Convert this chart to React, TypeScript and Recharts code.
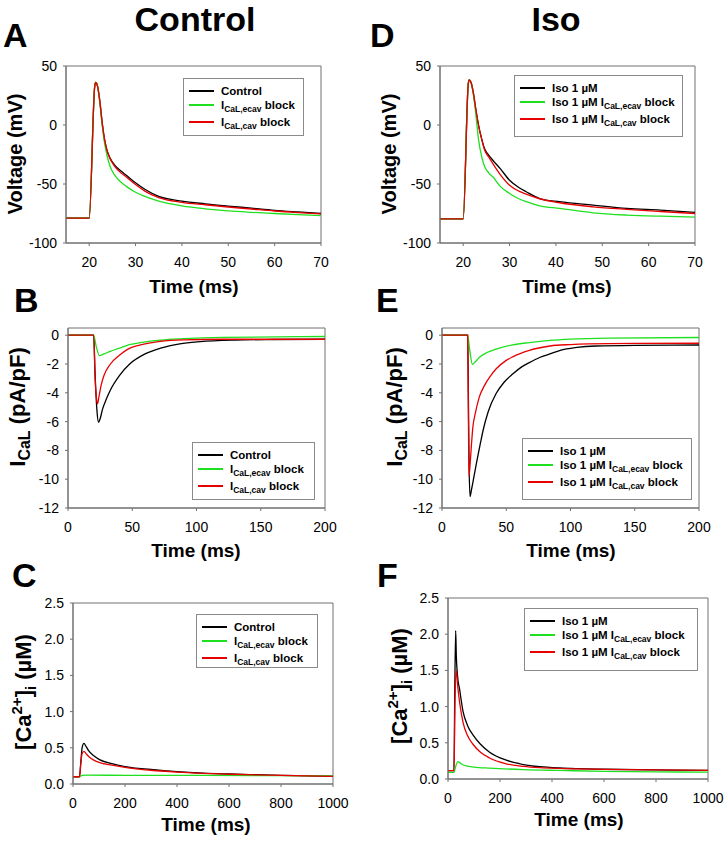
import { LineChart, Line, XAxis, YAxis, ReferenceArea } from 'recharts'

const FONT = '"Liberation Sans", Arial, Helvetica, sans-serif'
const AXIS = '#707070'
const BLACK = '#000000'
const GREEN = '#1fe01f'
const RED = '#e80000'

// A: control, membrane voltage (mV) vs time (ms)
const A_T = [15, 20, 21.2, 21.4, 21.8, 22.3, 22.8, 23.3, 23.8, 24.5, 25.5, 27, 28, 30, 32, 35, 40, 45, 50, 55, 60, 65, 70]
const A_CTRL = [-79, -79, 33, 36, 33, 20, 2, -12, -21, -28, -34, -39.5, -42.6, -49, -54.5, -60.5, -64.5, -66.8, -68.7, -70.5, -72.3, -73.7, -75]
const A_ECAV = [-79, -79, 33, 36, 33, 19, 0, -15, -25, -35, -42.5, -49, -52, -57, -60.5, -64.5, -68.5, -71, -72.8, -74, -75, -76, -76.8]
const A_CAV = [-79, -79, 33, 36, 33, 20, 2, -12, -21, -28.5, -35, -41, -44, -50.5, -56, -61.5, -65.5, -67.6, -69.5, -71.2, -72.9, -74.2, -75.3]

// D: iso, membrane voltage
const D_T = [15, 20, 21.1, 21.3, 21.7, 22.2, 22.7, 23.3, 24, 24.6, 25.5, 26.4, 28, 30, 32, 33.6, 36.5, 40.8, 48, 55.3, 62.5, 70]
const D_ISO = [-79.5, -79.5, 35, 38.3, 36, 27, 14, 0, -12, -20, -25.5, -29.9, -37, -46.8, -53, -56.6, -62.3, -65, -67.9, -70.7, -72.1, -74]
const D_ECAV = [-79.5, -79.5, 35, 38.3, 36, 26, 10, -12, -27, -35, -40.5, -43.9, -52, -58, -62.5, -65, -68.5, -70.7, -74.4, -76.3, -77.3, -78]
const D_CAV = [-79.5, -79.5, 35, 38.3, 36, 27, 14, 0, -12, -21, -27, -32.7, -42, -51, -56, -58.6, -62.5, -65.9, -69.3, -71.5, -73.3, -75]

// B: control, ICaL (pA/pF)
const B_CTRL_T = [0, 20, 21, 22.5, 23.8, 25, 27, 30, 33, 40, 48, 60, 72, 87, 103, 130, 160, 200]
const B_CTRL = [0, 0, -2.5, -5.2, -6.05, -5.8, -5.1, -4.4, -3.8, -2.8, -2.0, -1.3, -0.9, -0.6, -0.45, -0.34, -0.3, -0.28]
const B_ECAV_T = [0, 20, 22, 24.5, 28, 33, 40, 46, 51, 72, 90, 120, 200]
const B_ECAV = [0, 0, -0.8, -1.42, -1.3, -1.12, -0.9, -0.7, -0.6, -0.34, -0.24, -0.15, -0.09]
const B_CAV_T = [0, 20, 21, 22.3, 23, 24, 26, 28, 33, 40, 46, 55, 72, 90, 120, 200]
const B_CAV = [0, 0, -2.8, -4.5, -4.76, -4.3, -3.4, -2.8, -2.0, -1.4, -1.0, -0.7, -0.42, -0.32, -0.28, -0.28]

// E: iso, ICaL
const E_ISO_T = [0, 20, 20.5, 21, 21.8, 23, 25, 27, 30, 32, 36, 42, 48, 55, 62, 68, 76, 84, 92, 105, 120, 150, 200]
const E_ISO = [0, 0, -4, -8.5, -11.2, -10.7, -9.75, -8.8, -7.45, -6.6, -5.3, -4.07, -3.3, -2.7, -2.2, -1.9, -1.55, -1.3, -1.05, -0.85, -0.75, -0.7, -0.68]
const E_ECAV_T = [0, 20, 21, 22, 23.6, 26, 29, 35, 42, 55, 68, 84, 100, 130, 200]
const E_ECAV = [0, 0, -0.6, -1.3, -2.02, -1.85, -1.55, -1.2, -0.97, -0.67, -0.51, -0.36, -0.27, -0.2, -0.16]
const E_CAV_T = [0, 20, 20.5, 21, 22, 23, 24, 26, 29, 33, 38, 42, 50, 55, 68, 84, 100, 130, 200]
const E_CAV = [0, 0, -5, -9.8, -8.8, -7.5, -6.4, -5.4, -4.3, -3.5, -2.8, -2.35, -1.75, -1.5, -1.05, -0.75, -0.65, -0.58, -0.56]

// C: control, [Ca2+]i (uM)
const C_CTRL_T = [0, 25, 30, 35, 42, 50, 60, 80, 100, 150, 200, 300, 400, 500, 600, 700, 800, 900, 1000]
const C_CTRL = [0.1, 0.1, 0.3, 0.5, 0.56, 0.52, 0.46, 0.39, 0.34, 0.28, 0.24, 0.2, 0.17, 0.15, 0.138, 0.128, 0.12, 0.113, 0.107]
const C_ECAV_T = [0, 25, 35, 50, 200, 500, 1000]
const C_ECAV = [0.1, 0.1, 0.12, 0.122, 0.12, 0.118, 0.112]
const C_CAV_T = [0, 25, 30, 35, 42, 50, 60, 80, 100, 150, 200, 300, 400, 500, 600, 800, 1000]
const C_CAV = [0.1, 0.1, 0.28, 0.42, 0.45, 0.42, 0.38, 0.33, 0.3, 0.26, 0.23, 0.19, 0.165, 0.148, 0.135, 0.118, 0.106]

// F: iso, [Ca2+]i
const F_ISO_T = [0, 23, 26, 29.5, 32, 36, 45, 58, 75, 96, 125, 160, 224, 290, 353, 430, 500, 600, 800, 1000]
const F_ISO = [0.115, 0.115, 1.2, 2.05, 1.7, 1.45, 1.23, 0.93, 0.74, 0.61, 0.48, 0.37, 0.26, 0.2, 0.17, 0.152, 0.143, 0.135, 0.125, 0.118]
const F_ECAV_T = [0, 23, 30, 38, 50, 70, 100, 160, 290, 430, 600, 800, 1000]
const F_ECAV = [0.092, 0.092, 0.18, 0.24, 0.21, 0.18, 0.165, 0.15, 0.13, 0.118, 0.105, 0.098, 0.095]
const F_CAV_T = [0, 23, 27, 32, 36, 45, 58, 75, 96, 125, 160, 224, 290, 353, 430, 600, 800, 1000]
const F_CAV = [0.115, 0.115, 1.1, 1.5, 1.33, 1.05, 0.78, 0.6, 0.48, 0.37, 0.29, 0.21, 0.175, 0.157, 0.146, 0.134, 0.127, 0.12]

const V_TICKS = [-100, -50, 0, 50]
const V_TIME_TICKS = [20, 30, 40, 50, 60, 70]
const I_TICKS = [-12, -10, -8, -6, -4, -2, 0]
const I_TIME_TICKS = [0, 50, 100, 150, 200]
const CA_TICKS = [0, 0.5, 1, 1.5, 2, 2.5]
const CA_TIME_TICKS = [0, 200, 400, 600, 800, 1000]

const CONTROL_LABELS = [
  { pre: 'Control' },
  { pre: 'I', sub: 'CaL,ecav', post: ' block' },
  { pre: 'I', sub: 'CaL,cav', post: ' block' },
]
const ISO_LABELS = [
  { pre: 'Iso 1 \u00b5M' },
  { pre: 'Iso 1 \u00b5M I', sub: 'CaL,ecav', post: ' block' },
  { pre: 'Iso 1 \u00b5M I', sub: 'CaL,cav', post: ' block' },
]
const COLORS = [BLACK, GREEN, RED]

const zip = (t: number[], v: number[]) => t.map((x, i) => ({ t: x, v: v[i] }))

type Box = { l: number; r: number; t: number; b: number }

function Panel({ box, xDomain, xTicks, yDomain, yTicks, yFmt, series }: {
  box: Box; xDomain: number[]; xTicks: number[]; yDomain: number[]; yTicks: number[]
  yFmt?: (v: number) => string; series: { t: number; v: number }[][]
}) {
  const yw = 50, xh = 40, mt = 10, mr = 18
  const w = yw + (box.r - box.l) + mr
  const h = mt + (box.b - box.t) + xh
  const tick = { fill: '#000', fontSize: 14, fontFamily: FONT }
  return (
    <div style={{ position: 'absolute', left: box.l - yw, top: box.t - mt }}>
      <LineChart width={w} height={h} margin={{ top: mt, right: mr, bottom: 0, left: 0 }}>
        <XAxis type="number" dataKey="t" domain={xDomain} ticks={xTicks} interval={0} allowDataOverflow height={xh}
          tickSize={3} tickMargin={11} stroke={AXIS} tick={tick} />
        <YAxis type="number" domain={yDomain} ticks={yTicks} interval={0} allowDataOverflow width={yw}
          tickSize={3} tickMargin={6} stroke={AXIS} tick={tick} tickFormatter={yFmt} />
        <ReferenceArea x1={xDomain[0]} x2={xDomain[1]} y1={yDomain[0]} y2={yDomain[1]} fill="none" fillOpacity={0} stroke={AXIS} strokeOpacity={1} />
        {series.map((d, i) => (
          <Line key={i} data={d} dataKey="v" type="monotone" stroke={COLORS[i]} strokeWidth={1.3} dot={false}
            activeDot={false} isAnimationActive={false} />
        ))}
      </LineChart>
    </div>
  )
}

function Legend({ x, y, w, h, labels }: { x: number; y: number; w: number; h: number; labels: { pre: string; sub?: string; post?: string }[] }) {
  const rows = [12, 26, 43]
  return (
    <div style={{ position: 'absolute', left: x, top: y, width: w, height: h, border: '1px solid #8a8a8a', background: '#fff', boxSizing: 'border-box', fontFamily: FONT, fontWeight: 'bold', fontSize: 11.5 }}>
      {labels.map((lb, i) => (
        <div key={i} style={{ position: 'absolute', left: 5, top: rows[i] - 8, height: 16, display: 'flex', alignItems: 'center', whiteSpace: 'nowrap' }}>
          <span style={{ display: 'inline-block', width: 25, height: 1.5, background: COLORS[i], marginRight: 7 }} />
          <span>
            {lb.pre}
            {lb.sub && <span style={{ fontSize: 8.5, position: 'relative', top: 3 }}>{lb.sub}</span>}
            {lb.post}
          </span>
        </div>
      ))}
    </div>
  )
}

function VLabel({ x, y }: { x: number; y: number }) {
  return <text transform={`translate(${x},${y}) rotate(-90)`} textAnchor="middle" fontSize={20} fontWeight="bold">Voltage (mV)</text>
}
function ILabel({ x, y }: { x: number; y: number }) {
  return (
    <text transform={`translate(${x},${y}) rotate(-90)`} textAnchor="middle" fontSize={22} fontWeight="bold">
      I<tspan fontSize={16} dy={5}>CaL</tspan><tspan dy={-5}> (pA/pF)</tspan>
    </text>
  )
}
function CaLabel({ x, y }: { x: number; y: number }) {
  return (
    <text transform={`translate(${x},${y}) rotate(-90)`} textAnchor="middle" fontSize={22} fontWeight="bold">
      [Ca<tspan fontSize={15} dy={-9}>2+</tspan><tspan dy={9}>]</tspan><tspan fontSize={15} dy={5}>i</tspan><tspan dy={-5}> ({'\u00b5'}M)</tspan>
    </text>
  )
}
function TLabel({ x, y }: { x: number; y: number }) {
  return <text x={x} y={y} textAnchor="middle" fontSize={19} fontWeight="bold">Time (ms)</text>
}

export default function App() {
  const fmt1 = (v: number) => v.toFixed(1)
  return (
    <div style={{ position: 'absolute', left: 0, top: 0, width: 727, height: 842, background: '#fff', fontFamily: FONT }}>
      <Panel box={{ l: 66, r: 321, t: 66, b: 243 }} xDomain={[15, 70]} xTicks={V_TIME_TICKS} yDomain={[-100, 50]} yTicks={V_TICKS}
        series={[zip(A_T, A_CTRL), zip(A_T, A_ECAV), zip(A_T, A_CAV)]} />
      <Panel box={{ l: 440, r: 695, t: 66, b: 243 }} xDomain={[15, 70]} xTicks={V_TIME_TICKS} yDomain={[-100, 50]} yTicks={V_TICKS}
        series={[zip(D_T, D_ISO), zip(D_T, D_ECAV), zip(D_T, D_CAV)]} />
      <Panel box={{ l: 68, r: 325, t: 328, b: 508 }} xDomain={[0, 200]} xTicks={I_TIME_TICKS} yDomain={[-12, 0.5]} yTicks={I_TICKS}
        series={[zip(B_CTRL_T, B_CTRL), zip(B_ECAV_T, B_ECAV), zip(B_CAV_T, B_CAV)]} />
      <Panel box={{ l: 442, r: 699, t: 328, b: 508 }} xDomain={[0, 200]} xTicks={I_TIME_TICKS} yDomain={[-12, 0.5]} yTicks={I_TICKS}
        series={[zip(E_ISO_T, E_ISO), zip(E_ECAV_T, E_ECAV), zip(E_CAV_T, E_CAV)]} />
      <Panel box={{ l: 73, r: 333, t: 603, b: 784 }} xDomain={[0, 1000]} xTicks={CA_TIME_TICKS} yDomain={[0, 2.5]} yTicks={CA_TICKS} yFmt={fmt1}
        series={[zip(C_CTRL_T, C_CTRL), zip(C_ECAV_T, C_ECAV), zip(C_CAV_T, C_CAV)]} />
      <Panel box={{ l: 448, r: 708, t: 598, b: 779 }} xDomain={[0, 1000]} xTicks={CA_TIME_TICKS} yDomain={[0, 2.5]} yTicks={CA_TICKS} yFmt={fmt1}
        series={[zip(F_ISO_T, F_ISO), zip(F_ECAV_T, F_ECAV), zip(F_CAV_T, F_CAV)]} />

      <Legend x={183} y={78} w={121} h={58} labels={CONTROL_LABELS} />
      <Legend x={514} y={75} w={169} h={62} labels={ISO_LABELS} />
      <Legend x={192} y={442} w={123} h={58} labels={CONTROL_LABELS} />
      <Legend x={522} y={438} w={170} h={62} labels={ISO_LABELS} />
      <Legend x={196} y={614} w={122} h={54} labels={CONTROL_LABELS} />
      <Legend x={524} y={608} w={174} h={63} labels={ISO_LABELS} />

      <svg width={727} height={842} style={{ position: 'absolute', left: 0, top: 0, pointerEvents: 'none' }} fontFamily={FONT}>
        <text x={195} y={31} textAnchor="middle" fontSize={34} fontWeight="bold">Control</text>
        <text x={556} y={31} textAnchor="middle" fontSize={34} fontWeight="bold">Iso</text>
        <g fontSize={34} fontWeight="bold">
          <text x={3} y={47}>A</text>
          <text x={370} y={47}>D</text>
          <text x={14} y={312}>B</text>
          <text x={376} y={312}>E</text>
          <text x={12} y={587}>C</text>
          <text x={377} y={587}>F</text>
        </g>
        <VLabel x={21.5} y={154} />
        <VLabel x={395.5} y={154} />
        <ILabel x={25} y={407} />
        <ILabel x={402} y={407} />
        <CaLabel x={31} y={692} />
        <CaLabel x={407} y={686} />
        <TLabel x={194} y={293} />
        <TLabel x={567} y={293} />
        <TLabel x={196} y={557} />
        <TLabel x={571} y={557} />
        <TLabel x={206} y={831} />
        <TLabel x={579} y={826} />
      </svg>
    </div>
  )
}
